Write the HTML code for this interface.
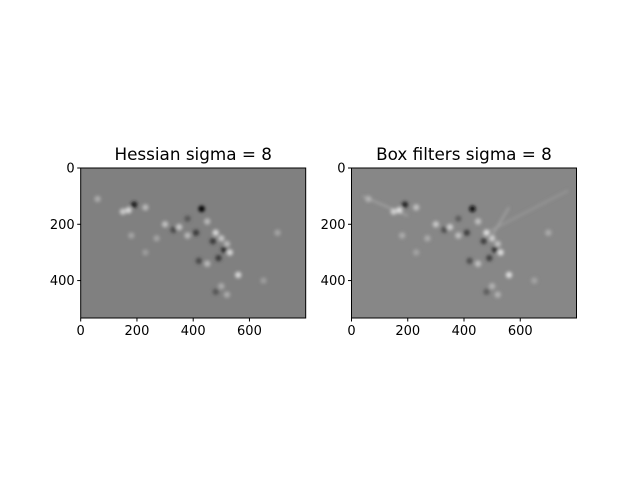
<!DOCTYPE html>
<html><head><meta charset="utf-8"><style>
body{margin:0;background:#fff;}
svg{display:block;font-family:"DejaVu Sans","Liberation Sans",sans-serif;}
</style></head><body>
<svg id="fig" width="640" height="480" viewBox="0 0 640 480">
<rect width="640" height="480" fill="#fff"/>
<defs><filter id="bl" x="-50%" y="-50%" width="200%" height="200%"><feGaussianBlur stdDeviation="1.6"/></filter></defs>
</svg>
<script>
// data: blob features in image coordinates (x 0-800, y 0-533), value: brightness offset
const blobX=[170,190,150,230,300,330,350,380,410,430,450,470,480,500,510,520,530,490,450,420,560,500,480,520,270,180,60,700,650,230,380];
const blobY=[150,130,155,140,200,220,210,240,230,145,190,260,230,250,290,270,300,320,340,330,380,420,440,450,250,240,110,230,400,300,180];
const blobV=[60,-70,50,40,45,-40,50,40,-50,-90,40,-50,60,50,-60,40,60,-50,40,-40,60,30,-30,30,25,25,30,25,20,20,-30];
const xTicks=[0,200,400,600];
const yTicks=[0,200,400];
const panels=[{title:"Hessian sigma = 8",left:80.7,bg:"#808080",name:"hessian"},{title:"Box filters sigma = 8",left:351.5,bg:"#878787",name:"box-filters"}];
const W=800,H=533,topY=168,pw=225,ph=150;
const NS="http://www.w3.org/2000/svg";
const svg=document.getElementById('fig');
function mk(t,a,p){const e=document.createElementNS(NS,t);for(const k in a)e.setAttribute(k,a[k]);(p||svg).appendChild(e);return e;}
panels.forEach((p,pi)=>{
  const sx=v=>p.left+v/W*pw, sy=v=>topY+v/H*ph;
  const g=mk('g',{});
  
  
  const bg=mk('rect',{x:p.left,y:topY,width:pw,height:ph,fill:p.bg},g);
  
  
  const cg=mk('g',{filter:'url(#bl)'},g);
  if(pi===1){
    mk('line',{x1:sx(40),y1:sy(100),x2:sx(200),y2:sy(170),stroke:'#a8a8a8','stroke-width':1.5},cg);
    mk('line',{x1:sx(480),y1:sy(230),x2:sx(770),y2:sy(80),stroke:'#9c9c9c','stroke-width':1.5},cg);
    mk('line',{x1:sx(500),y1:sy(240),x2:sx(560),y2:sy(140),stroke:'#a8a8a8','stroke-width':1.5},cg);
  }
  blobX.forEach((x,i)=>{
    const v=Math.max(0,Math.min(255,(pi?135:128)+blobV[i]*1.4));
    const c=mk('circle',{cx:sx(x),cy:sy(blobY[i]),r:3.2,fill:`rgb(${v},${v},${v})`},cg);
    
    
  });
  mk('rect',{x:p.left,y:topY,width:pw,height:ph,fill:'none',stroke:'#000','stroke-width':1},g);
  xTicks.forEach(t=>{
    mk('line',{x1:sx(t),y1:topY+ph,x2:sx(t),y2:topY+ph+3.5,stroke:'#000'},g);
    const tx=mk('text',{x:sx(t),y:topY+ph+17,'font-size':13,'text-anchor':'middle'},g);tx.textContent=t;
    
    
  });
  yTicks.forEach(t=>{
    mk('line',{x1:p.left,y1:sy(t),x2:p.left-3.5,y2:sy(t),stroke:'#000'},g);
    const tx=mk('text',{x:p.left-6,y:sy(t)+4.5,'font-size':13,'text-anchor':'end'},g);tx.textContent=t;
    
    
  });
  const ti=mk('text',{x:p.left+pw/2,y:topY-8,'font-size':16.8,'text-anchor':'middle'},g);ti.textContent=p.title;
  
  
});
</script>
</body></html>
